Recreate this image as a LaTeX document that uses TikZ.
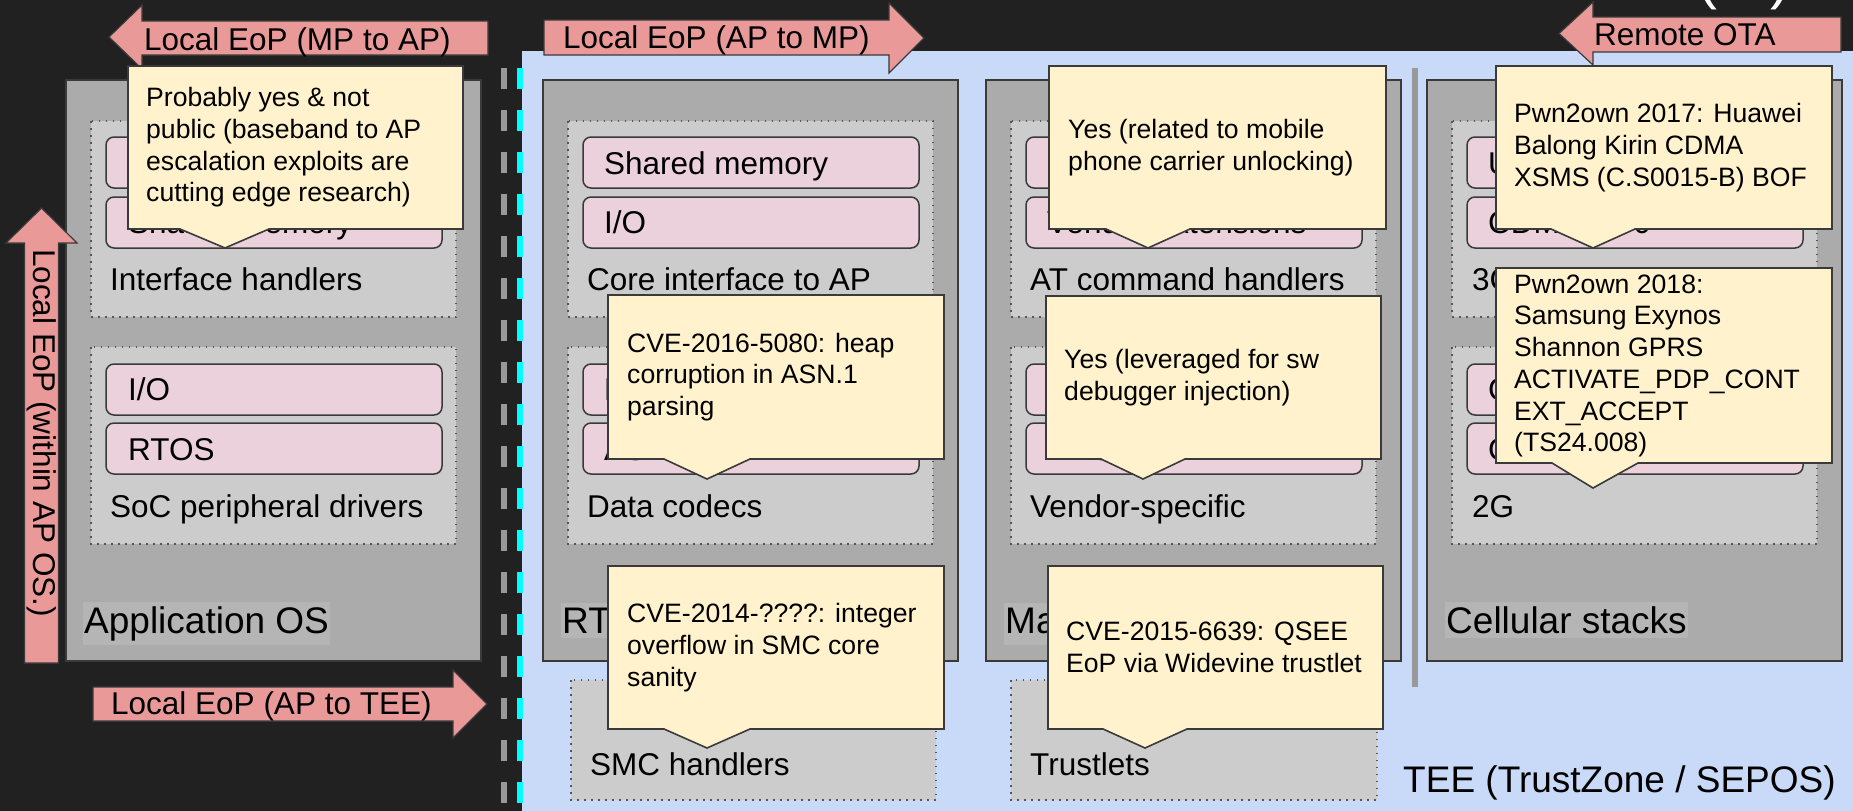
\documentclass[tikz,border=0pt]{standalone}
\usepackage{fontspec}
\setmainfont{Liberation Sans}
\definecolor{bgdark}{HTML}{212121}
\definecolor{teeblue}{HTML}{C9DAF8}
\definecolor{boxgrey}{HTML}{ABABAB}
\definecolor{edgegrey}{HTML}{3A3A3A}
\definecolor{groupgrey}{HTML}{CCCCCC}
\definecolor{dotgrey}{HTML}{555555}
\definecolor{pinkfill}{HTML}{EAD1DC}
\definecolor{calloutfill}{HTML}{FFF2CC}
\definecolor{arrowred}{HTML}{EA9999}
\definecolor{titlegrey}{HTML}{B5B5B5}
\definecolor{dashgrey}{HTML}{999999}
\definecolor{tealcyan}{HTML}{00FFFF}

\begin{document}
\begin{tikzpicture}[x=1pt,y=-1pt,
  outerbox/.style={fill=boxgrey,draw=edgegrey,line width=2pt},
  groupbox/.style={fill=groupgrey,draw=dotgrey,line width=1.5pt,dash pattern=on 1.5pt off 5.5pt},
  pinkbox/.style={fill=pinkfill,draw=edgegrey,line width=1.5pt,rounded corners=8pt},
  callout/.style={fill=calloutfill,draw=edgegrey,line width=1.6pt},
  blockarrow/.style={fill=arrowred,draw=edgegrey,line width=1.2pt},
  lbl/.style={anchor=base west,inner sep=0pt,font=\fontsize{31.5}{38}\selectfont},
  coltitle/.style={anchor=base west,inner xsep=1.5pt,inner ysep=4.5pt,fill=titlegrey,font=\fontsize{37}{44}\selectfont},
  calltext/.style={anchor=west,align=left,inner sep=0pt,font=\fontsize{26.6}{31.7}\selectfont}]
  \useasboundingbox (0,0) rectangle (1853,811);
  \fill[bgdark] (0,0) rectangle (1853,811);
  \node[anchor=base west,inner sep=0pt,text=white,font=\fontsize{60}{72}\selectfont] (pagemark) at (1697,-2) {(\hspace{53pt})};

  % Zone TEE
  \fill[teeblue] (522,51) rectangle (1853,811);
  \draw[dashgrey,line width=6pt,dash pattern=on 21pt off 21pt] (504,68) -- (504,811);
  \draw[tealcyan,line width=6pt,dash pattern=on 21pt off 21pt] (520,68) -- (520,811);
  \fill[dashgrey] (1412,68) rectangle (1418,687);
  \node[anchor=base west,inner sep=0pt,font=\fontsize{37}{44}\selectfont] (tee) at (1403,792) {TEE (TrustZone / SEPOS)};

  % Colonnes : cadres, groupes, cases roses
  \foreach \x in {66,543,986,1427}{
    \draw[outerbox] (\x,80) rectangle ++(415,581);
    \draw[groupbox] (\x+25,121) rectangle ++(365,196);
    \draw[groupbox] (\x+25,347) rectangle ++(365,197);
    \foreach \y in {137,197,364,423}
      \draw[pinkbox] (\x+40,\y) rectangle ++(336,51);
  }
  \draw[groupbox] (571,680) rectangle (936,800);
  \draw[groupbox] (1011,680) rectangle (1377,800);

  % Application OS
  \node[lbl] (apshm) at (128,233.5) {Shared memory};
  \node[lbl] (apio) at (128,400.5) {I/O};
  \node[lbl] (aprtos) at (128,460) {RTOS};
  \node[lbl] (apif) at (110,290) {Interface handlers};
  \node[lbl] (apsoc) at (110,517) {SoC peripheral drivers};
  \node[coltitle] (apos) at (82.5,633) {Application OS};

  % RTOS
  \node[lbl] (rtshm) at (604,174) {Shared memory};
  \node[lbl] (rtio) at (604,233.5) {I/O};
  \node[lbl] (rtmsg) at (604,400.5) {Messages};
  \node[lbl] (rtasn) at (604,460) {ASN.1};
  \node[lbl] (rtcore) at (587,290) {Core interface to AP};
  \node[lbl] (rtcodec) at (587,517) {Data codecs};
  \node[coltitle] (rtos) at (560.5,633) {RTOS};
  \node[lbl] (smc) at (590,775) {SMC handlers};

  % Management
  \node[lbl] (mgipc) at (1047,174) {IPC};
  \node[lbl] (mgvext) at (1047,233.5) {Vendor extensions};
  \node[lbl] (mgemu) at (1047,460) {Emulator};
  \node[lbl] (mgat) at (1030,290) {AT command handlers};
  \node[lbl] (mgvs) at (1030,517) {Vendor-specific};
  \node[coltitle] (mgt) at (1003.5,633) {Management};
  \node[lbl] (trl) at (1030,775) {Trustlets};

  % Cellular stacks
  \node[lbl] (umts) at (1488,174) {UMTS};
  \node[lbl] (cdma) at (1488,233.5) {CDMA2000};
  \node[lbl] (gsm) at (1488,400.5) {GSM};
  \node[lbl] (gprs) at (1488,460) {GPRS};
  \node[lbl] (gthree) at (1472,290) {3G};
  \node[lbl] (gtwo) at (1472,517) {2G};
  \node[coltitle] (cell) at (1444.5,633) {Cellular stacks};

  % Fleches d'escalade
  \draw[blockarrow] (488,21) -- (142,21) -- (142,5) -- (109,37) -- (142,69) -- (142,55) -- (488,55) -- cycle;
  \node[lbl] (mpap) at (144,50) {Local EoP (MP to AP)};
  \draw[blockarrow] (544,20) -- (889,20) -- (889,3) -- (924,38) -- (889,73) -- (889,55) -- (544,55) -- cycle;
  \node[lbl] (apmp) at (563,48.5) {Local EoP (AP to MP)};
  \draw[blockarrow] (1841,17) -- (1593,17) -- (1593,2) -- (1559,33.5) -- (1593,65) -- (1593,52) -- (1841,52) -- cycle;
  \node[lbl] (ota) at (1594,45) {Remote OTA};
  \draw[blockarrow] (93,687) -- (453,687) -- (453,670) -- (487,704) -- (453,738) -- (453,721) -- (93,721) -- cycle;
  \node[lbl] (aptee) at (111,714) {Local EoP (AP to TEE)};
  \draw[blockarrow] (24.5,663) -- (24.5,243) -- (6,243) -- (41.5,208) -- (77,243) -- (58.5,243) -- (58.5,663) -- cycle;
  \node[lbl,anchor=west,rotate=-90] (apwithin) at (41.5,249) {Local EoP (within AP OS.)};

  % Bulles
  \draw[callout] (128,66) -- (463,66) -- (463,229) -- (269,229) -- (225,248) -- (180,229) -- (128,229) -- cycle;
  \node[calltext] (cprob) at (146,147.5) {Probably yes \& not\\public (baseband to AP\\escalation exploits are\\cutting edge research)};
  \draw[callout] (608,295) -- (944,295) -- (944,459) -- (750,459) -- (707,479) -- (664,459) -- (608,459) -- cycle;
  \node[calltext] (casn) at (627,377) {CVE-2016-5080: heap\\corruption in ASN.1\\parsing};
  \draw[callout] (608,566) -- (944,566) -- (944,729) -- (750,729) -- (707,748) -- (664,729) -- (608,729) -- cycle;
  \node[calltext] (csmc) at (627,647.5) {CVE-2014-????: integer\\overflow in SMC core\\sanity};
  \draw[callout] (1049,66) -- (1386,66) -- (1386,229) -- (1190,229) -- (1148,248) -- (1106,229) -- (1049,229) -- cycle;
  \node[calltext] (cunlock) at (1068,147.5) {Yes (related to mobile\\phone carrier unlocking)};
  \draw[callout] (1046,296) -- (1381,296) -- (1381,459) -- (1185,459) -- (1143,479) -- (1101,459) -- (1046,459) -- cycle;
  \node[calltext] (cdebug) at (1064,377.5) {Yes (leveraged for sw\\debugger injection)};
  \draw[callout] (1048,566) -- (1383,566) -- (1383,729) -- (1187,729) -- (1145,748) -- (1103,729) -- (1048,729) -- cycle;
  \node[calltext] (cqsee) at (1066,647.5) {CVE-2015-6639: QSEE\\EoP via Widevine trustlet};
  \draw[callout] (1496,66) -- (1832,66) -- (1832,229) -- (1635,229) -- (1593,248) -- (1551,229) -- (1496,229) -- cycle;
  \node[calltext] (cpwnone) at (1514,147.5) {Pwn2own 2017: Huawei\\Balong Kirin CDMA\\XSMS (C.S0015-B) BOF};
  \draw[callout] (1496,268) -- (1832,268) -- (1832,463) -- (1638,463) -- (1593,488) -- (1552,463) -- (1496,463) -- cycle;
  \node[calltext] (cpwntwo) at (1514,366) {Pwn2own 2018:\\Samsung Exynos\\Shannon GPRS\\ACTIVATE\_PDP\_CONT\\EXT\_ACCEPT\\(TS24.008)};
\end{tikzpicture}
\end{document}
